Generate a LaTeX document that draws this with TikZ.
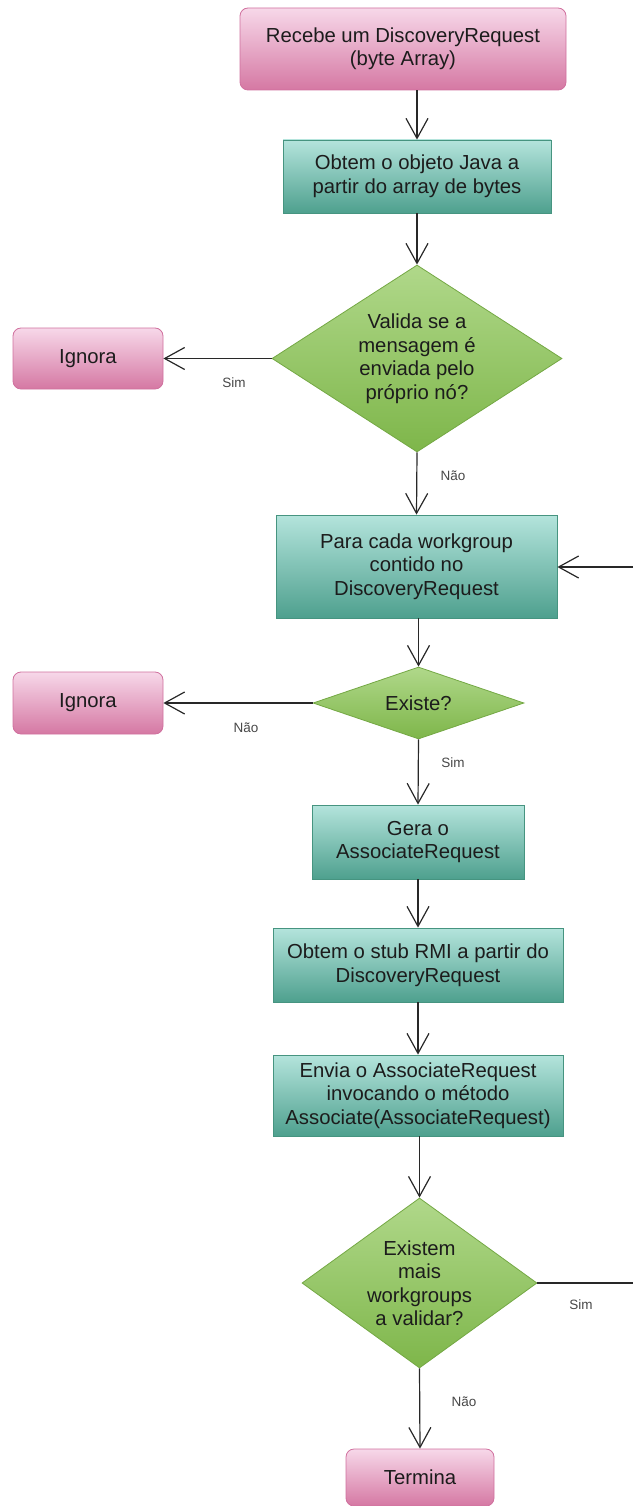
\documentclass[tikz,border=0pt]{standalone}
\usepackage{fontspec}
\setmainfont{Liberation Sans}
\usetikzlibrary{shapes.geometric,arrows.meta}

\definecolor{pinkTop}{RGB}{247,216,233}
\definecolor{pinkBot}{RGB}{213,120,163}
\definecolor{pinkLine}{RGB}{208,112,158}
\definecolor{tealTop}{RGB}{180,228,220}
\definecolor{tealBot}{RGB}{78,160,142}
\definecolor{tealLine}{RGB}{70,148,128}
\definecolor{greenTop}{RGB}{176,216,138}
\definecolor{greenBot}{RGB}{126,182,74}
\definecolor{greenLine}{RGB}{116,168,68}
\definecolor{ink}{RGB}{28,28,28}
\definecolor{wire}{RGB}{40,40,40}

\begin{document}
\begin{tikzpicture}[x=1pt,y=-1pt,
  every node/.style={font=\fontsize{20.3}{23.5}\selectfont, text=ink, align=center, inner sep=0pt},
  endbox/.style={rectangle, rounded corners=8pt, draw=pinkLine, top color=pinkTop, bottom color=pinkBot, line width=0.8pt},
  procbox/.style={rectangle, draw=tealLine, top color=tealTop, bottom color=tealBot, line width=0.8pt},
  decision/.style={diamond, draw=greenLine, top color=greenTop, bottom color=greenBot, line width=0.8pt},
  flow/.style={draw=wire, line width=1.2pt, -{Straight Barb[length=20pt,width=22pt]}},
  lbl/.style={font=\fontsize{13.5}{16}\selectfont, text=black!72}
]
\useasboundingbox (0,0) rectangle (633,1506);

% main column
\node[endbox, minimum width=326pt, minimum height=82pt] (recv) at (403,49)
  {Recebe um DiscoveryRequest\\(byte Array)};
\node[procbox, minimum width=268pt, minimum height=73pt] (obj) at (417,176.5)
  {Obtem o objeto Java a\\partir do array de bytes};
\node[decision, minimum width=290pt, minimum height=187pt, aspect=1.55] (own) at (417,358.5)
  {Valida se a\\mensagem é\\enviada pelo\\próprio nó?};
\node[endbox, minimum width=150pt, minimum height=61pt] (ign1) at (88,358.5) {Ignora};
\node[procbox, minimum width=281pt, minimum height=103pt] (each) at (416.5,566.5)
  {Para cada workgroup\\contido no\\DiscoveryRequest};
\node[decision, minimum width=211pt, minimum height=72pt, aspect=2.9] (exists) at (418.5,703) {Existe?};
\node[endbox, minimum width=150pt, minimum height=62pt] (ign2) at (88,703) {Ignora};
\node[procbox, minimum width=212pt, minimum height=74pt] (gen) at (418,842)
  {Gera o\\AssociateRequest};
\node[procbox, minimum width=290pt, minimum height=74pt] (stub) at (418,965)
  {Obtem o stub RMI a partir do\\DiscoveryRequest};
\node[procbox, minimum width=290pt, minimum height=81pt] (send) at (418,1095.5)
  {Envia o AssociateRequest\\invocando o método\\Associate(AssociateRequest)};
\node[decision, minimum width=235pt, minimum height=170pt, aspect=1.38] (more) at (419.5,1283)
  {Existem\\mais\\workgroups\\a validar?};
\node[endbox, minimum width=148pt, minimum height=57pt] (done) at (420,1477.5) {Termina};

% loop ends running off the right edge
\coordinate (loopOut) at (633,1283);
\coordinate (loopIn) at (633,567);

% connectors
\draw[flow] (obj.north |- recv.south) -- (obj.north);
\draw[flow] (obj.south) -- (own.north);
\draw[flow] (own.west) -- (ign1.east);
\draw[flow] (own.south) -- (each.north);
\draw[flow] (loopIn) -- (each.east |- loopIn);
\draw[flow] (exists.north |- each.south) -- (exists.north);
\draw[flow] (exists.west) -- (ign2.east);
\draw[flow] (exists.south) -- (gen.north);
\draw[flow] (gen.south) -- (stub.north);
\draw[flow] (stub.south) -- (send.north);
\draw[flow] (more.north |- send.south) -- (more.north);
\draw[draw=wire, line width=1.2pt] (more.east) -- (loopOut);
\draw[flow] (more.south) -- (done.north);

% branch labels
\node[lbl] (l1) at (234,383) {Sim};
\node[lbl] (l2) at (453,476) {Não};
\node[lbl] (l3) at (246,728) {Não};
\node[lbl] (l4) at (453,763) {Sim};
\node[lbl] (l5) at (581,1305) {Sim};
\node[lbl] (l6) at (464,1402) {Não};
\end{tikzpicture}
\end{document}
